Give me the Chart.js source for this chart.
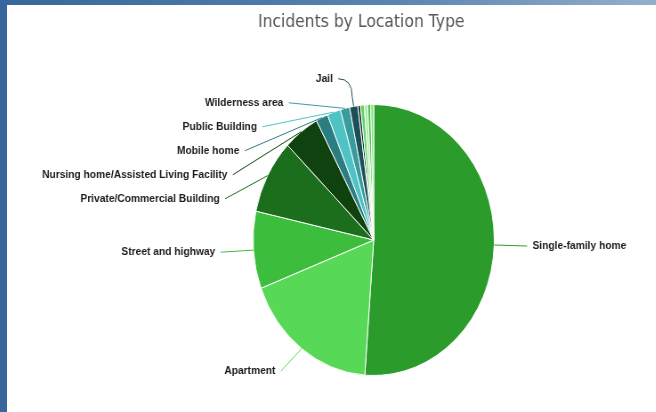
<!DOCTYPE html>
<html>
<head>
<meta charset="utf-8">
<script src="https://cdn.jsdelivr.net/npm/chart.js@4.4.1/dist/chart.umd.min.js"></script>
<style>
  html, body { margin: 0; padding: 0; width: 656px; height: 412px; overflow: hidden; }
  body { background: linear-gradient(to right, #36669b, #5a84b0 60%, #94afcc); }
  #panel { position: absolute; left: 7px; top: 5px; width: 649px; height: 407px; background: #fff; overflow: hidden; }
  /* the original screenshot is squeezed horizontally, so the whole chart is too */
  #wrap { position: absolute; left: 0; top: 0; width: 788px; height: 407px; transform: scaleX(0.89); transform-origin: 0 0; }
</style>
</head>
<body>
<div id="panel"><div id="wrap"><canvas id="locationChart"></canvas></div></div>
<script>
// données (parts en %)
const chartTitle = 'Incidents by Location Type';
const categories = [
    'Single-family home',
    'Apartment',
    'Street and highway',
    'Private/Commercial Building',
    'Nursing home/Assisted Living Facility',
    'Mobile home',
    'Public Building',
    'Wilderness area',
    'Jail',
    '', '', '', '', '' // petites parts sans étiquette
];
const values = [51.1, 18.0, 9.2, 8.9, 4.8, 1.6, 1.8, 1.25, 1.1, 0.35, 0.5, 0.45, 0.4, 0.4];
const sliceColors = [
    '#2b9b2b', '#57d957', '#3dbd3d', '#1b6e1b', '#0f420f',
    '#2a7d80', '#4fc2c3', '#389c9e', '#1b5156',
    '#0c2a2e', '#5fd65f', '#a6eea6', '#45c145', '#86e486'
];

// étiquettes extérieures avec traits de liaison (style Highcharts)
const outerLabels = {
    id: 'outerLabels',
    afterDatasetsDraw(chart) {
        const ctx = chart.ctx;
        const arcs = chart.getDatasetMeta(0).data;
        const labelDistance = 28;
        const left = [], right = [];

        arcs.forEach((arc, i) => {
            if (!categories[i]) return;
            const p = arc.getProps(['x', 'y', 'startAngle', 'endAngle', 'outerRadius'], true);
            const mid = (p.startAngle + p.endAngle) / 2;
            const R = p.outerRadius + labelDistance;
            const item = { i, cx: p.x, cy: p.y, mid, r: p.outerRadius, R, ty: p.y + R * Math.sin(mid) };
            (Math.cos(mid) < 0 ? left : right).push(item);
        });

        // éviter les chevauchements
        [left, right].forEach(side => {
            side.sort((a, b) => a.ty - b.ty);
            for (let k = 1; k < side.length; k++) {
                side[k].ty = Math.max(side[k].ty, side[k - 1].ty + 24);
            }
        });

        ctx.save();
        ctx.font = 'bold 11.5px "Liberation Sans", Arial, sans-serif';
        ctx.textBaseline = 'middle';
        [...left, ...right].forEach(it => {
            const isLeft = Math.cos(it.mid) < 0;
            const Rx = it.R + 15;
            const dy = (it.ty - it.cy) * 1.07;
            const dx = Math.sqrt(Math.max(Rx * Rx - dy * dy, 0));
            const lx = isLeft ? it.cx - dx : it.cx + dx;

            const cos = Math.cos(it.mid), sin = Math.sin(it.mid);
            const edge = { x: it.cx + it.r * cos, y: it.cy + it.r * sin };
            const brk = { x: it.cx + (it.r + 10) * cos, y: it.cy + (it.r + 10) * sin };
            const sx = isLeft ? lx + 6 : lx - 6;

            ctx.strokeStyle = sliceColors[it.i];
            ctx.lineWidth = 1;
            ctx.beginPath();
            ctx.moveTo(sx, it.ty);
            if (sin < 0 && it.ty < brk.y) {
                // étiquette au-dessus : trait horizontal puis courbe vers la part
                ctx.quadraticCurveTo(brk.x, it.ty, brk.x, brk.y);
            }
            ctx.lineTo(edge.x, edge.y);
            ctx.stroke();

            ctx.fillStyle = '#1c1c1c';
            ctx.textAlign = isLeft ? 'right' : 'left';
            ctx.fillText(categories[it.i], lx, it.ty);
        });

        // titre
        ctx.font = '17.5px "DejaVu Sans", sans-serif';
        ctx.fillStyle = '#555555';
        ctx.textAlign = 'center';
        ctx.fillText(chartTitle, 398, 17);
        ctx.restore();
    }
};

document.addEventListener('DOMContentLoaded', function () {
    const ctx = document.getElementById('locationChart').getContext('2d');
    new Chart(ctx, {
        type: 'pie',
        data: {
            labels: categories,
            datasets: [{
                data: values,
                backgroundColor: sliceColors,
                borderColor: '#ffffff',
                borderWidth: 1
            }]
        },
        options: {
            responsive: true,
            maintainAspectRatio: false,
            animation: false,
            layout: { padding: { top: 99, bottom: 36, left: 276, right: 240 } },
            plugins: {
                legend: { display: false },
                title: { display: false },
                tooltip: { enabled: true }
            }
        },
        plugins: [outerLabels]
    });
});
</script>
</body>
</html>
